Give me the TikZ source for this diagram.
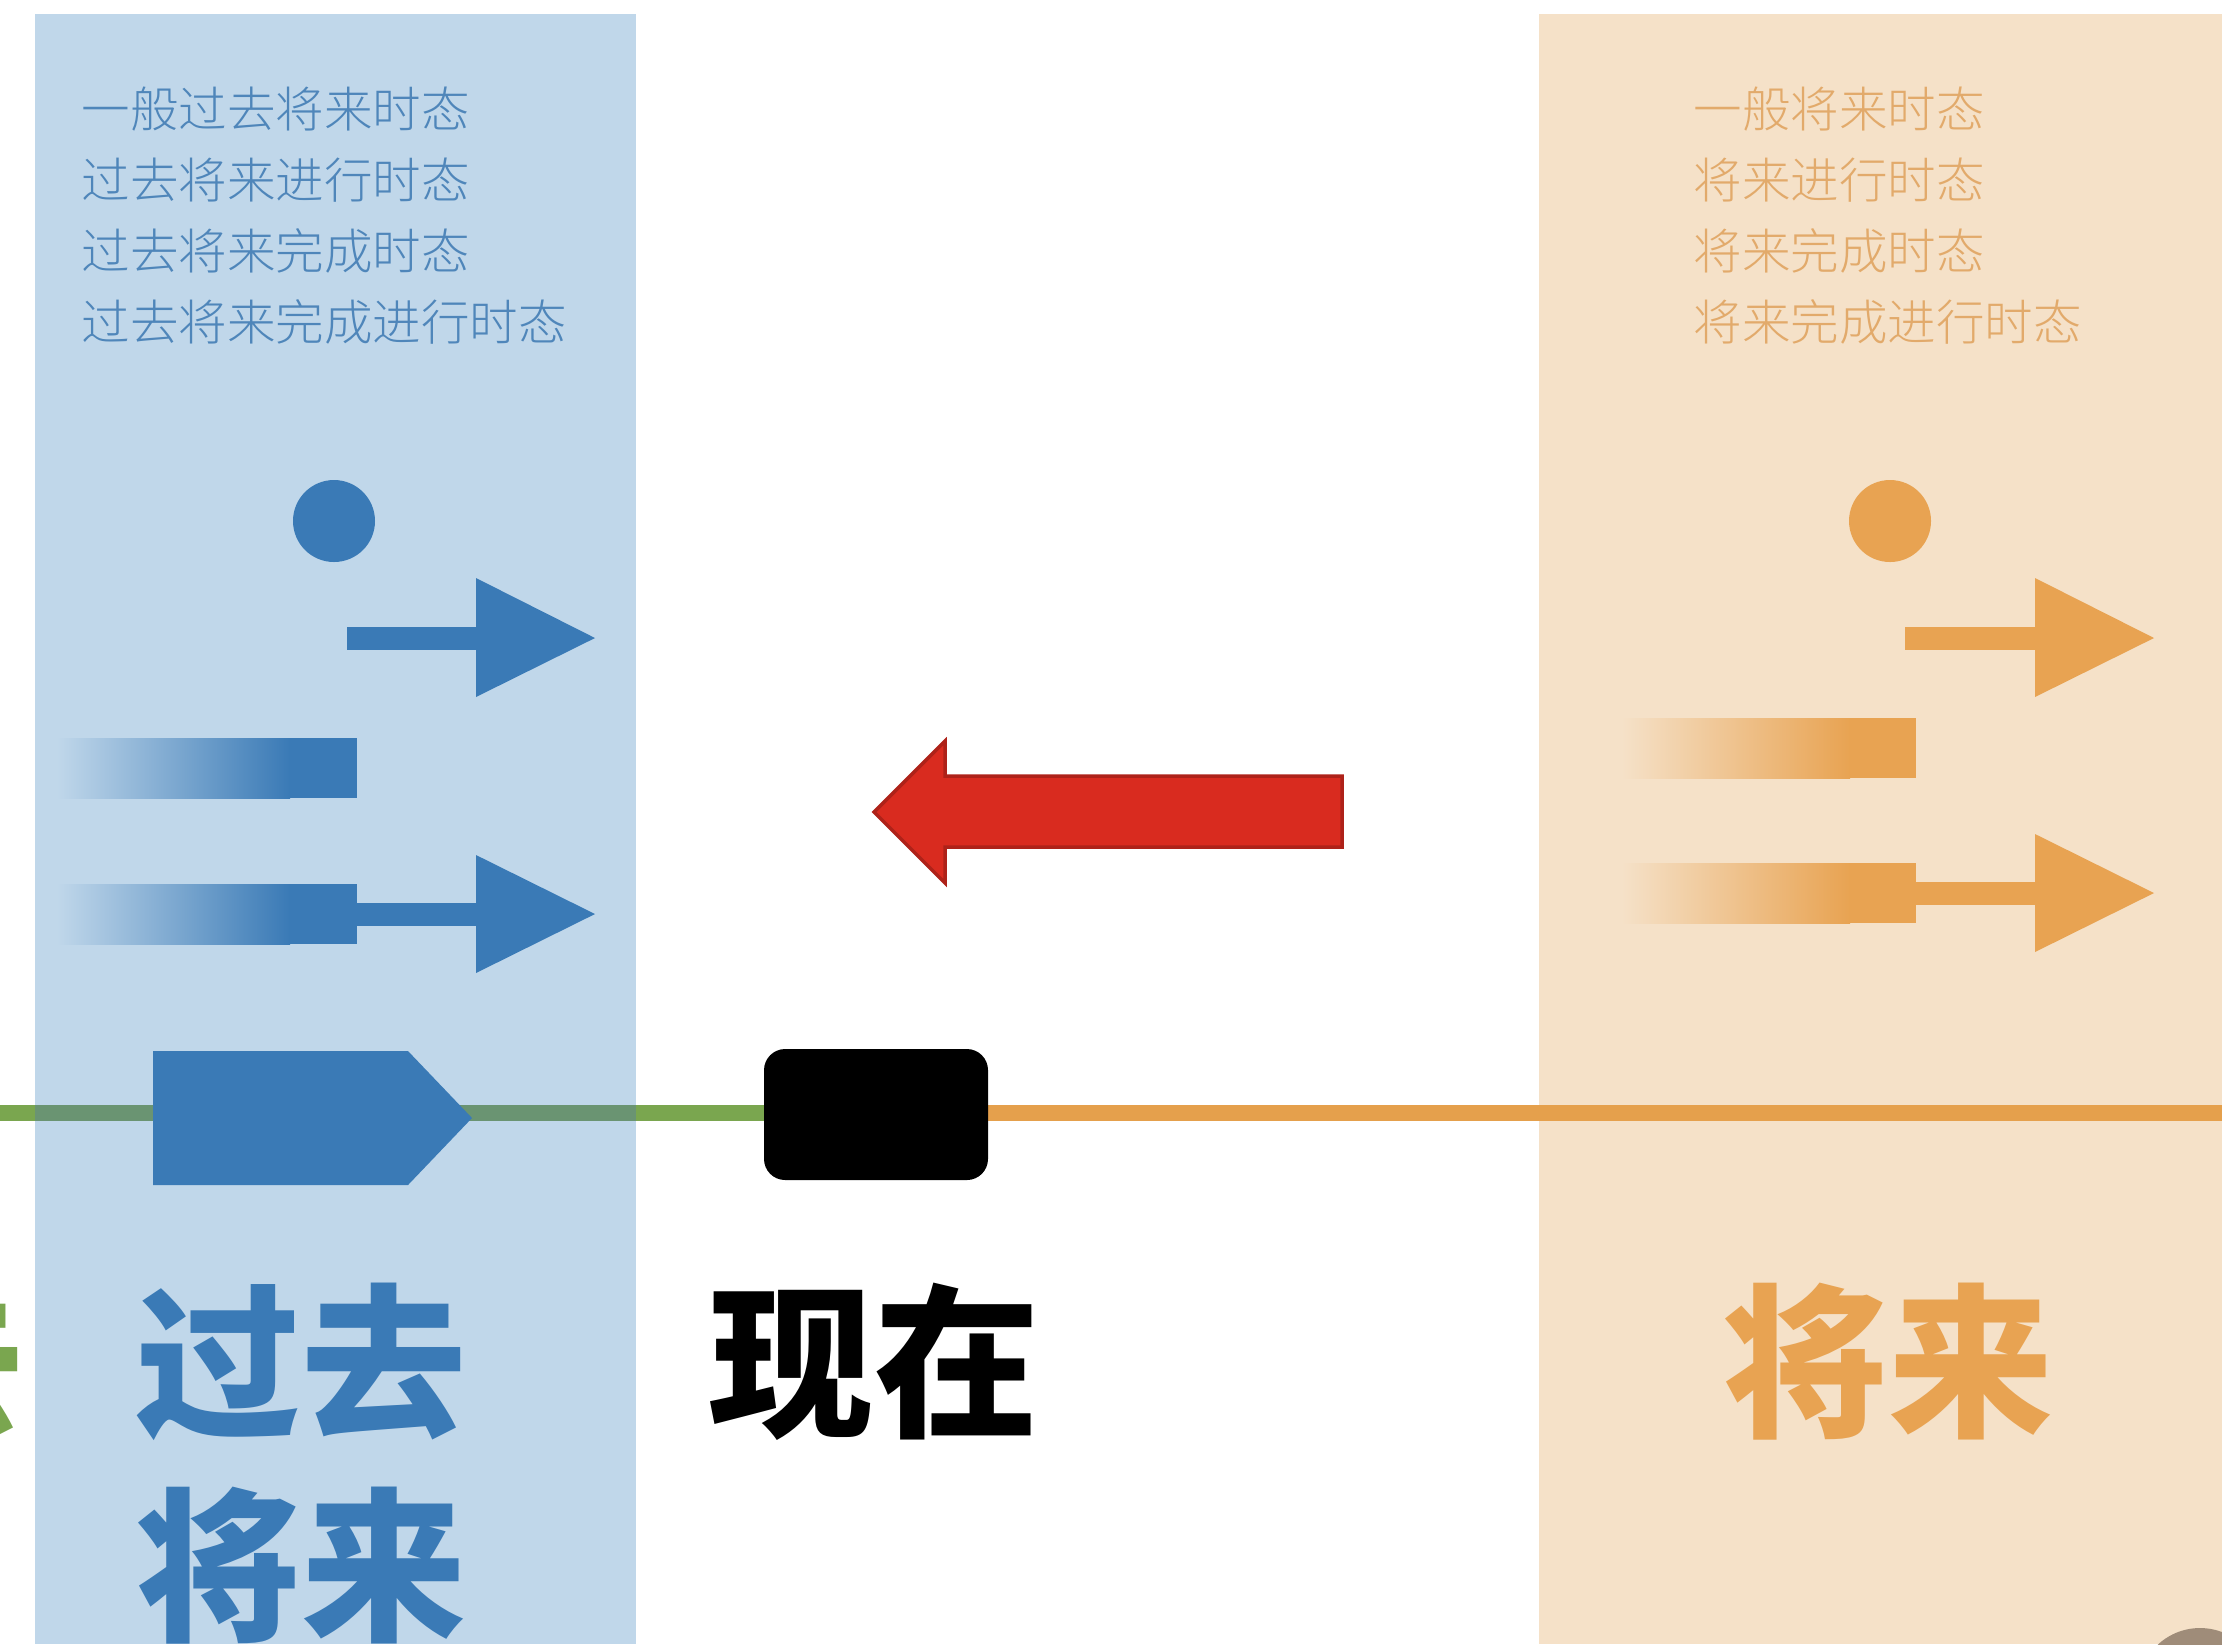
\documentclass[tikz,border=0pt]{standalone}
\usepackage{fontspec}
\newfontfamily\cjk{Noto Sans CJK SC}
\newfontfamily\cjklight{Noto Sans CJK SC Light}
\usepackage{tikz}
\usetikzlibrary{positioning}
\definecolor{pastpanel}{HTML}{C0D7EA}
\definecolor{pastblue}{HTML}{3A7AB6}
\definecolor{pasttext}{HTML}{4F86BA}
\definecolor{futpanel}{HTML}{F5E1C8}
\definecolor{futorange}{HTML}{E8A352}
\definecolor{futtext}{HTML}{E2AA6B}
\definecolor{lineGreen}{HTML}{7AA64F}
\definecolor{lineGreenDark}{HTML}{6A9472}
\definecolor{lineOrange}{HTML}{E5A04C}
\definecolor{nowred}{HTML}{D92B1F}
\tikzset{
  tense-item/.style={font=\cjklight\fontsize{13.8}{16}\selectfont, anchor=west, inner sep=0pt},
  era-label/.style={font=\cjk\bfseries\fontsize{47}{52}\selectfont, inner sep=0pt}
}

\begin{document}
\begin{tikzpicture}[x=0.01cm, y=-0.01cm]
  \useasboundingbox (0,0) rectangle (2222,1644);
  \fill[white] (0,0) rectangle (2222,1644);

  % panels
  \fill[pastpanel] (35,14) rectangle (636,1644);
  \fill[futpanel] (1539,14) rectangle (2222,1644);

  % tense lists
  \foreach \t [count=\i] in {一般过去将来时态,过去将来进行时态,过去将来完成时态,过去将来完成进行时态}
    \node[tense-item, pasttext] (past\i) at (81, 38+71*\i) {\t};
  \foreach \t [count=\i] in {一般将来时态,将来进行时态,将来完成时态,将来完成进行时态}
    \node[tense-item, futtext] (fut\i) at (1693, 38+71*\i) {\t};

  % past-future symbols
  \fill[pastblue] (334,521) circle (41);
  \fill[pastblue] (347,627) rectangle (476,650);
  \fill[pastblue] (476,578) -- (595,638) -- (476,697) -- cycle;
  \shade[left color=pastpanel, right color=pastblue] (57,738) rectangle (290,798);
  \fill[pastblue] (289,738) rectangle (357,798);
  \shade[left color=pastpanel, right color=pastblue] (57,884) rectangle (290,944);
  \fill[pastblue] (289,884) rectangle (357,944);
  \fill[pastblue] (356,903) rectangle (476,926);
  \fill[pastblue] (476,855) -- (595,914) -- (476,973) -- cycle;

  % future symbols
  \fill[futorange] (1890,521) circle (41);
  \fill[futorange] (1905,627) rectangle (2035,650);
  \fill[futorange] (2035,578) -- (2154,638) -- (2035,697) -- cycle;
  \shade[left color=futpanel, right color=futorange] (1622,718) rectangle (1850,778);
  \fill[futorange] (1849,718) rectangle (1916,778);
  \shade[left color=futpanel, right color=futorange] (1622,863) rectangle (1850,923);
  \fill[futorange] (1849,863) rectangle (1916,923);
  \fill[futorange] (1915,882) rectangle (2035,905);
  \fill[futorange] (2035,834) -- (2154,893) -- (2035,952) -- cycle;

  % red arrow back to the past
  \draw[fill=nowred, draw=nowred!80!black, line width=1pt]
    (1342,776) -- (945,776) -- (945,741) -- (874,812) -- (945,883) -- (945,847) -- (1342,847) -- cycle;

  % timeline
  \fill[lineGreen] (0,1105) rectangle (800,1121);
  \fill[lineGreenDark] (35,1105) rectangle (636,1121);
  \fill[lineOrange] (950,1105) rectangle (2222,1121);
  \fill[pastblue] (153,1051) -- (408,1051) -- (472,1118) -- (408,1185) -- (153,1185) -- cycle;
  \fill[black, rounded corners=6pt] (764,1049) rectangle (988,1180);
  \node[inner sep=0pt] (now) at (876,1114) {};

  % era labels
  \node[era-label, lineGreen, anchor=east] (pastgreen) at (24,1362) {过去};
  \node[era-label, pastblue] (pastfut1) at (301,1362) {过去};
  \node[era-label, pastblue] (pastfut2) at (301,1566) {将来};
  \node[era-label, black] (present) at (874,1362) {现在};
  \node[era-label, futorange] (future) at (1888,1362) {将来};

  % corner button
  \fill[black!50!brown!60] (2200,1690) circle (62);
\end{tikzpicture}
\end{document}
